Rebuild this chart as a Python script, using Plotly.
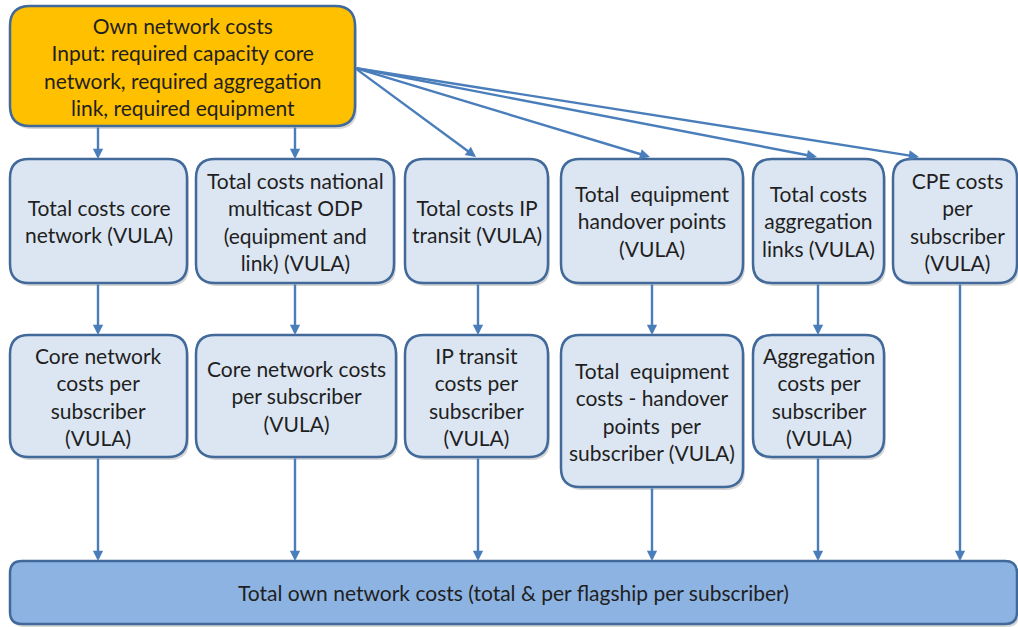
import plotly.graph_objects as go

W, H = 1018, 627

# ---- labels (content) ----
top_label = ["Own network costs", "Input: required capacity core",
             "network, required aggregation", "link, required equipment"]
row2_labels = [
    ["Total costs core", "network (VULA)"],
    ["Total costs national", "multicast ODP", "(equipment and", "link) (VULA)"],
    ["Total costs IP", "transit (VULA)"],
    ["Total\u00a0 equipment", "handover points", "(VULA)"],
    ["Total costs", "aggregation", "links (VULA)"],
    ["CPE costs", "per", "subscriber", "(VULA)"],
]
row3_labels = [
    ["Core network", "costs per", "subscriber", "(VULA)"],
    ["Core network costs", "per subscriber", "(VULA)"],
    ["IP transit", "costs per", "subscriber", "(VULA)"],
    ["Total\u00a0 equipment", "costs - handover", "points\u00a0 per", "subscriber (VULA)"],
    ["Aggregation", "costs per", "subscriber", "(VULA)"],
]
bottom_label = "Total own network costs (total & per flagship per subscriber)"

# ---- layout geometry (pixels) ----
top_box = (10, 6, 355, 126)
row2_x = [(10, 187), (196, 394), (405, 548), (561, 743), (753, 884), (893, 1017)]
row2_y = (159, 283)
row3_x = [(10, 187), (196, 396), (405, 548), (561, 743), (753, 884)]
row3_y = [(335, 457), (335, 457), (335, 457), (335, 487), (335, 457)]
bottom_box = (10, 561, 1017, 624)
col_x = [98, 295, 478, 652, 818, 960]
diag_src = (355, 68)
diag_tips = [(476, 157), (650, 157), (817, 157), (919, 157)]

BORDER = "#41699A"
LIGHT = "#DCE6F2"
ORANGE = "#FFC000"
BOTTOM_FILL = "#8DB3E2"
ARROW = "#4A7EBB"
TEXT = "#1F1F1F"
FONT = "Lato"
FS = 21


def rrect(x0, y0, x1, y1, r):
    return (f"M{x0+r},{y0} L{x1-r},{y0} Q{x1},{y0} {x1},{y0+r} "
            f"L{x1},{y1-r} Q{x1},{y1} {x1-r},{y1} L{x0+r},{y1} "
            f"Q{x0},{y1} {x0},{y1-r} L{x0},{y0+r} Q{x0},{y0} {x0+r},{y0} Z")


shapes = []
annotations = []


def add_box(x0, y0, x1, y1, fill, r=19, lines=None, tx=None):
    shapes.append(dict(type="path", path=rrect(x0 + 2, y0 + 3, x1 + 2, y1 + 3, r),
                       fillcolor="rgba(0,0,0,0.16)", line=dict(width=0),
                       xref="x", yref="y", layer="above"))
    shapes.append(dict(type="path", path=rrect(x0, y0, x1, y1, r),
                       fillcolor=fill, line=dict(color=BORDER, width=2.5),
                       xref="x", yref="y", layer="above"))
    if lines:
        annotations.append(dict(
            x=(x0 + x1) / 2 if tx is None else tx, y=(y0 + y1) / 2,
            xref="x", yref="y", showarrow=False,
            text="<br>".join(lines), align="center",
            xanchor="center", yanchor="middle",
            font=dict(family=FONT, size=FS, color=TEXT)))


def add_arrow(x0, y0, x1, y1):
    annotations.append(dict(
        x=x1, y=y1, ax=x0, ay=y0, xref="x", yref="y", axref="x", ayref="y",
        text="", showarrow=True, arrowhead=2, arrowsize=0.85, arrowwidth=2.4,
        arrowcolor=ARROW, standoff=0, startstandoff=0))


# boxes
add_box(*top_box, ORANGE, r=20, lines=top_label)
for i, ((x0, x1), lab) in enumerate(zip(row2_x, row2_labels)):
    add_box(x0, row2_y[0], x1, row2_y[1], LIGHT, lines=lab,
            tx=957 if i == 5 else None)
for (x0, x1), (y0, y1), lab in zip(row3_x, row3_y, row3_labels):
    add_box(x0, y0, x1, y1, LIGHT, lines=lab)
add_box(*bottom_box, BOTTOM_FILL, r=12, lines=[bottom_label])

# arrows: top -> row 2 (vertical)
add_arrow(col_x[0], top_box[3], col_x[0], row2_y[0])
add_arrow(col_x[1], top_box[3], col_x[1], row2_y[0])
# arrows: top -> row 2 (diagonal)
for tx, ty in diag_tips:
    add_arrow(diag_src[0], diag_src[1], tx, ty)
# row 2 -> row 3
for i in range(5):
    add_arrow(col_x[i], row2_y[1], col_x[i], row3_y[i][0])
# row 3 -> bottom
for i in range(5):
    add_arrow(col_x[i], row3_y[i][1], col_x[i], bottom_box[1])
# CPE -> bottom
add_arrow(col_x[5], row2_y[1], col_x[5], bottom_box[1])

fig = go.Figure()
fig.update_layout(
    width=W, height=H, margin=dict(l=0, r=0, t=0, b=0),
    paper_bgcolor="white", plot_bgcolor="white",
    xaxis=dict(range=[0, W], visible=False, fixedrange=True),
    yaxis=dict(range=[H, 0], visible=False, fixedrange=True),
    shapes=shapes, annotations=annotations, showlegend=False,
)
fig.write_html(
    "out.html",
    config={"displayModeBar": False},
    post_script=(
        "document.body.style.margin='0';document.body.style.overflow='hidden';"
        "var s=document.createElement('style');"
        "s.textContent='text{font-variant-ligatures:none;}';"
        "document.head.appendChild(s);"
    ),
)
